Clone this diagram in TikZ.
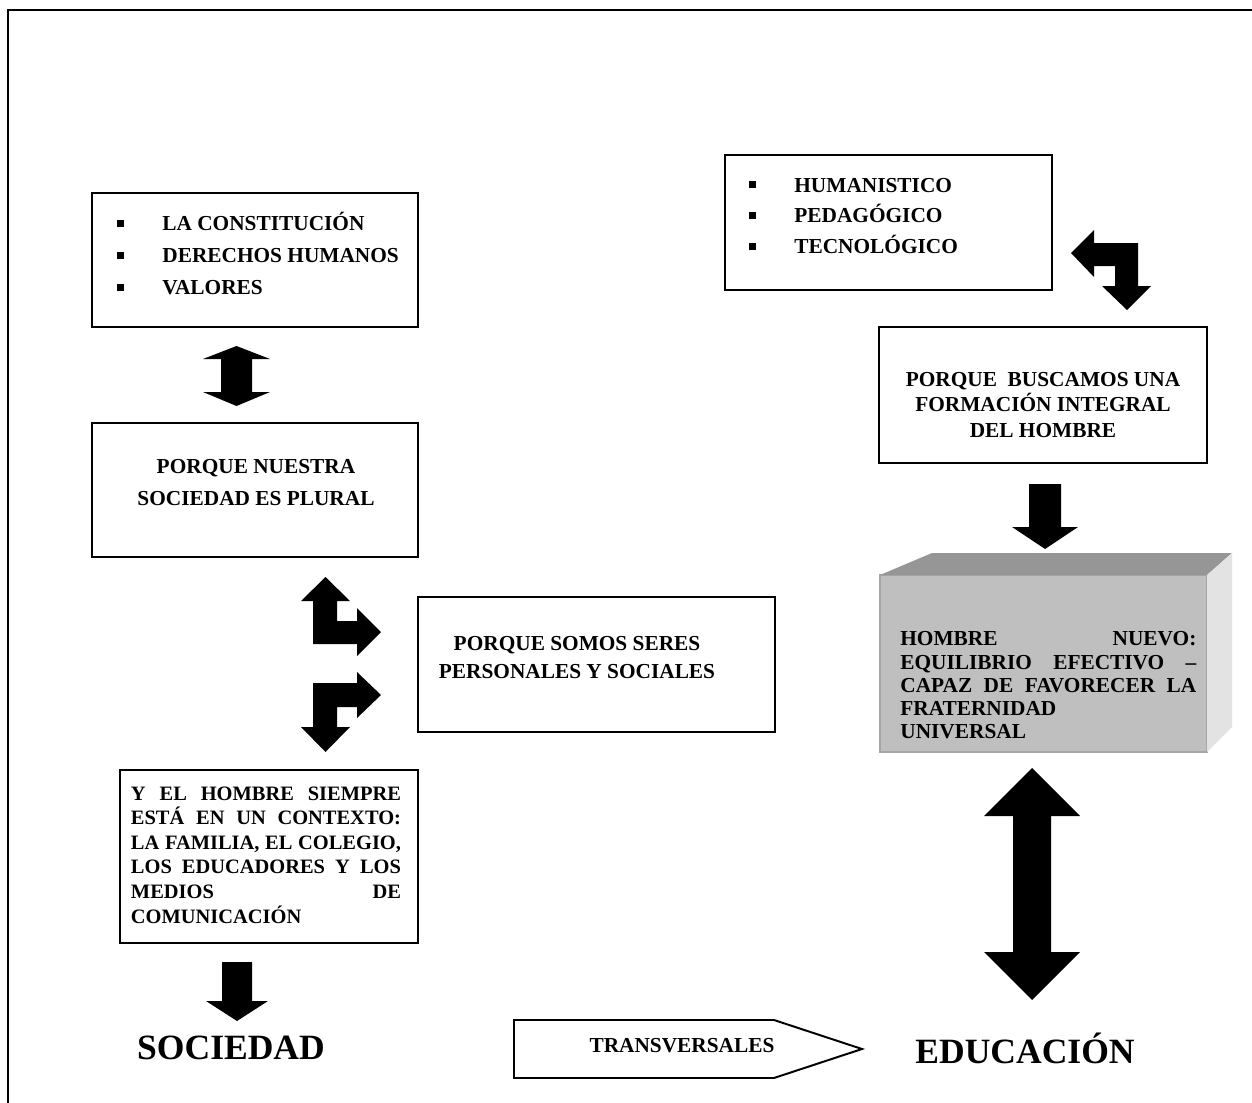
\documentclass[tikz,border=0pt]{standalone}
\usepackage{fontspec}
\setmainfont{Liberation Serif}
\newcommand{\pxl}[1]{#1*0.5625pt}
\newcommand{\blt}{\makebox[25.6pt][l]{\rule[2pt]{4pt}{4pt}}}
\begin{document}
\begin{tikzpicture}[x=0.5625pt,y=-0.5625pt,
  boxline/.style={draw=black, line width=1.1pt, inner sep=0pt, outer sep=0pt},
  txt/.style={font=\bfseries\fontsize{12}{14}\selectfont, inner sep=0pt},
  big/.style={font=\bfseries\fontsize{20}{24}\selectfont, inner sep=0pt},
  blockarrow/.style={fill=black},
]
\useasboundingbox (0,0) rectangle (1252,1103);
\fill[white] (0,0) rectangle (1252,1103);
% frame
\draw[line width=1.2pt] (7,10) -- (1252,10);
\draw[line width=1.2pt] (8,10) -- (8,1103);

% boxes
\node[boxline, minimum width=\pxl{326}, minimum height=\pxl{134}] (boxA) at (255,260) {};
\node[boxline, minimum width=\pxl{326}, minimum height=\pxl{134}] (boxB) at (255,490) {};
\node[boxline, minimum width=\pxl{357}, minimum height=\pxl{135}] (boxC) at (596.5,664.5) {};
\node[boxline, minimum width=\pxl{298}, minimum height=\pxl{173}] (boxD) at (269,856.5) {};
\node[boxline, minimum width=\pxl{327}, minimum height=\pxl{135}] (boxE) at (888.5,222.5) {};
\node[boxline, minimum width=\pxl{328}, minimum height=\pxl{136}] (boxF) at (1043,395) {};

% texts
\node[txt, font=\bfseries\fontsize{12}{18}\selectfont, align=left, anchor=west] (tA) at (116.5,254)
  {\blt LA CONSTITUCIÓN\\ \blt DERECHOS HUMANOS\\ \blt VALORES};
\node[txt, font=\bfseries\fontsize{12}{18}\selectfont, align=center] (tB) at (256,483)
  {PORQUE NUESTRA\\ SOCIEDAD ES PLURAL};
\node[txt, font=\bfseries\fontsize{12}{15.75}\selectfont, align=center] (tC) at (577,658)
  {PORQUE SOMOS SERES\\ PERSONALES Y SOCIALES};
\node[txt, font=\bfseries\fontsize{11.5}{13.8}\selectfont, align=left] (tD) at (266,855)
  {\makebox[151.9pt][s]{Y EL HOMBRE SIEMPRE}\\
   \makebox[151.9pt][s]{ESTÁ EN UN CONTEXTO:}\\
   \makebox[151.9pt][s]{LA FAMILIA, EL COLEGIO,}\\
   \makebox[151.9pt][s]{LOS EDUCADORES Y LOS}\\
   \makebox[151.9pt][s]{MEDIOS DE}\\
   \makebox[151.9pt][l]{COMUNICACIÓN}};
\node[txt, font=\bfseries\fontsize{12}{17.4}\selectfont, align=left, anchor=west] (tE) at (748.5,216)
  {\blt HUMANISTICO\\ \blt PEDAGÓGICO\\ \blt TECNOLÓGICO};
\node[txt, font=\bfseries\fontsize{12}{14.3}\selectfont, align=center] (tF) at (1043,405)
  {PORQUE\ \ BUSCAMOS UNA\\ FORMACIÓN INTEGRAL\\ DEL HOMBRE};

% cube
\node[draw=black!35, line width=0.6pt, fill=black!25, inner sep=0pt, outer sep=0pt,
      minimum width=\pxl{327}, minimum height=\pxl{177}] (cube) at (1043.5,663.5) {};
\fill[black!41] (cube.north west) -- (932,553) -- (1232,553) -- (cube.north east) -- cycle;
\fill[black!11] (cube.north east) -- (1232,553) -- (1232,727) -- (cube.south east) -- cycle;
\node[txt, font=\bfseries\fontsize{12}{13.1}\selectfont, align=left, anchor=west] (tG) at (900,685.5)
  {\makebox[166.5pt][s]{HOMBRE NUEVO:}\\
   \makebox[166.5pt][s]{EQUILIBRIO EFECTIVO –}\\
   \makebox[166.5pt][s]{CAPAZ DE FAVORECER LA}\\
   FRATERNIDAD\\
   UNIVERSAL};

% bottom labels
\node[big] (soc) at (231,1048) {SOCIEDAD};
\node[big] (edu) at (1025,1048) {EDUCACIÓN};
\draw[line width=1.1pt, fill=white] (514,1020) -- (774,1020) -- (862,1049) -- (774,1078) -- (514,1078) -- cycle;
\node[txt] (trans) at (682,1046) {TRANSVERSALES};

% block arrows
% A <-> B
\fill[blockarrow] (236.5,346) -- (270,359) -- (252,359) -- (252,392) -- (270,392) -- (236.5,406)
  -- (203,392) -- (221,392) -- (221,359) -- (203,359) -- cycle;
% upper bent arrow (up and right)
\fill[blockarrow] (325.5,577) -- (350,601) -- (337,601) -- (337,621) -- (357,621) -- (357,608)
  -- (381,632) -- (357,656) -- (357,644) -- (313,644) -- (313,601) -- (301,601) -- cycle;
% lower bent arrow (right and down)
\fill[blockarrow] (381,695) -- (357,672) -- (357,683) -- (313,683) -- (313,727) -- (301,727)
  -- (325.5,752) -- (350,727) -- (337,727) -- (337,707) -- (357,707) -- (357,718) -- cycle;
% D -> SOCIEDAD
\fill[blockarrow] (222,962) -- (252,962) -- (252,1001) -- (268,1001) -- (237,1021) -- (206,1001)
  -- (222,1001) -- cycle;
% E bent arrow (left and down)
\fill[blockarrow] (1071,253) -- (1094,230) -- (1094,243) -- (1138,243) -- (1138,286) -- (1151,286)
  -- (1127,310) -- (1102,286) -- (1115,286) -- (1115,266) -- (1094,266) -- (1094,277) -- cycle;
% F -> cube
\fill[blockarrow] (1029,484) -- (1061,484) -- (1061,527) -- (1078,527) -- (1045,549) -- (1012,527)
  -- (1029,527) -- cycle;
% cube <-> EDUCACION
\fill[blockarrow] (1032,768) -- (1080,816) -- (1051,816) -- (1051,952) -- (1080,952) -- (1032,1000)
  -- (984,952) -- (1013,952) -- (1013,816) -- (984,816) -- cycle;
\end{tikzpicture}
\end{document}
